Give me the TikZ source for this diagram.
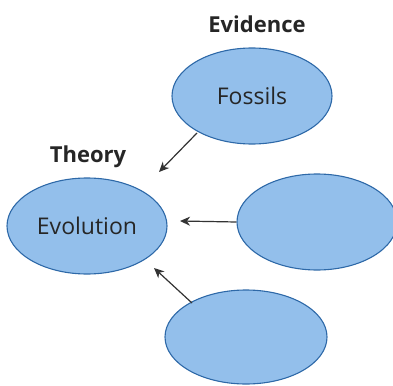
\documentclass[tikz,border=0pt]{standalone}
\usepackage{fontspec}
\setmainfont{Open Sans}
\usetikzlibrary{shapes.geometric,arrows.meta}
\definecolor{ovfill}{HTML}{93BFEB}
\definecolor{ovline}{HTML}{2E69A8}
\definecolor{arr}{HTML}{333333}
\tikzset{
  oval/.style={ellipse, draw=ovline, fill=ovfill, line width=1.1pt, minimum width=#1, minimum height=96pt, inner sep=0pt, font=\fontsize{23}{26}\selectfont, text=black!85},
  oval/.default=160pt,
  head/.style={font=\bfseries\fontsize{22}{26}\selectfont, text=black!85},
  conn/.style={draw=arr, line width=1.2pt, -{Stealth[length=10pt,width=9pt,inset=3pt]}}
}
\begin{document}
\begin{tikzpicture}[x=1pt,y=-1pt]
\useasboundingbox (0,0) rectangle (393,385);
\node[head] (evid) at (257,24) {Evidence};
\node[oval] (foss) at (252,96) {Fossils};
\node[head] (theo) at (88,157) {Theory};
\node[oval] (evol) at (87,226) {Evolution};
\node[oval] (right) at (317,222) {};
\node[oval, minimum height=94pt, minimum width=162pt] (bot) at (246,337) {};
\coordinate (t1) at (159,172);
\coordinate (t2) at (180,221);
\coordinate (t3) at (154,268);
\coordinate (s1) at (197,133);
\coordinate (s3) at (192,303);
\draw[conn] (s1) -- (t1);
\draw[conn] (right.west) -- (t2);
\draw[conn] (s3) -- (t3);
\end{tikzpicture}
\end{document}
